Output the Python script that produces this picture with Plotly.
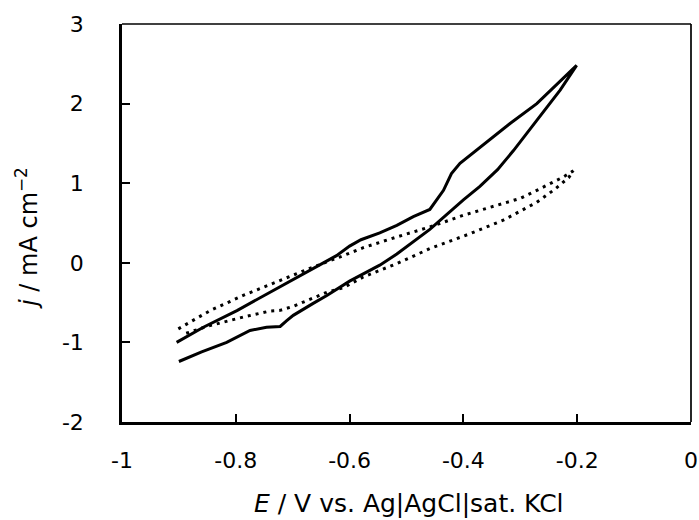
import plotly.graph_objects as go

# Solid CV curve: scan from -0.9 V up to -0.2 V (lower branch) and back (upper branch)
solid_E = [-0.900, -0.860, -0.816, -0.775, -0.746, -0.722, -0.711, -0.699, -0.664, -0.640,
           -0.600, -0.576, -0.547, -0.517, -0.459, -0.400, -0.371, -0.340, -0.312, -0.271,
           -0.230, -0.201,
           -0.271, -0.318, -0.377, -0.406, -0.421, -0.435, -0.459, -0.488, -0.517, -0.547,
           -0.580, -0.600, -0.623, -0.681, -0.740, -0.798, -0.857, -0.904]
solid_j = [-1.24, -1.12, -1.00, -0.85, -0.81, -0.80, -0.73, -0.66, -0.51, -0.41,
           -0.23, -0.14, -0.03, 0.11, 0.42, 0.79, 0.96, 1.17, 1.41, 1.79,
           2.17, 2.48,
           2.00, 1.75, 1.42, 1.25, 1.12, 0.91, 0.67, 0.58, 0.47, 0.375,
           0.29, 0.21, 0.09, -0.14, -0.37, -0.60, -0.81, -1.00]

# Dotted CV curve
dot_E = [-0.901, -0.845, -0.787, -0.728, -0.670, -0.611, -0.576, -0.517, -0.459, -0.400,
         -0.342, -0.300, -0.271, -0.224, -0.207,
         -0.215, -0.240, -0.271, -0.330, -0.388, -0.459, -0.517, -0.576, -0.610, -0.640,
         -0.699, -0.722, -0.740, -0.787, -0.851, -0.889]
dot_j = [-0.83, -0.60, -0.41, -0.24, -0.07, 0.09, 0.19, 0.325, 0.45, 0.597,
         0.72, 0.81, 0.91, 1.08, 1.155,
         1.07, 0.92, 0.76, 0.535, 0.367, 0.178, -0.01, -0.178, -0.31, -0.37,
         -0.547, -0.597, -0.606, -0.682, -0.80, -0.89]

x_tickvals = [-1, -0.8, -0.6, -0.4, -0.2, 0]
x_ticktext = ["-1", "-0.8", "-0.6", "-0.4", "-0.2", "0"]
y_tickvals = [3, 2, 1, 0, -1, -2]
y_ticktext = ["3", "2", "1", "0", "-1", "-2"]

x_title = "<i>E</i> / V vs. Ag|AgCl|sat. KCl"
y_title = "<i>j</i> / mA cm<sup>\u22122</sup>"

FONT = "DejaVu Sans"

fig = go.Figure()
fig.add_trace(go.Scatter(x=dot_E, y=dot_j, mode="lines",
                         line=dict(color="black", width=3, dash="3px,5px"),
                         showlegend=False))
fig.add_trace(go.Scatter(x=solid_E, y=solid_j, mode="lines",
                         line=dict(color="black", width=3),
                         showlegend=False))

fig.update_layout(
    width=699, height=520,
    margin=dict(l=122, r=8, t=24, b=98),
    paper_bgcolor="white", plot_bgcolor="white",
    font=dict(family=FONT, size=22, color="black"),
    xaxis=dict(range=[-1, 0], tickvals=x_tickvals, ticktext=x_ticktext,
               showgrid=False, zeroline=False, showline=True, linecolor="black",
               linewidth=2.5, ticks="inside", ticklen=8, tickwidth=1.5,
               tickcolor="black", ticklabelstandoff=17, automargin=False),
    yaxis=dict(range=[-2, 3], tickvals=y_tickvals, ticktext=y_ticktext,
               showgrid=False, zeroline=False, showline=True, linecolor="black",
               linewidth=2.5, ticks="inside", ticklen=8, tickwidth=1.5,
               tickcolor="black", ticklabelstandoff=31, automargin=False),
)
# axis titles
fig.add_annotation(text=x_title, xref="paper", yref="paper", x=0.505, y=0,
                   xanchor="center", yanchor="middle", yshift=-81, showarrow=False,
                   font=dict(family=FONT, size=25))
fig.add_annotation(text=y_title, xref="paper", yref="paper", x=0, y=0.5,
                   xanchor="center", yanchor="middle", xshift=-95, yshift=-15,
                   textangle=-90, showarrow=False,
                   font=dict(family=FONT, size=24))
# thinner top and right frame lines
fig.add_shape(type="line", xref="paper", yref="paper", x0=0, x1=1, y0=1, y1=1,
              line=dict(color="black", width=1.7))
fig.add_shape(type="line", xref="paper", yref="paper", x0=1, x1=1, y0=0, y1=1,
              line=dict(color="black", width=1.7))

fig.write_html("out.html")
